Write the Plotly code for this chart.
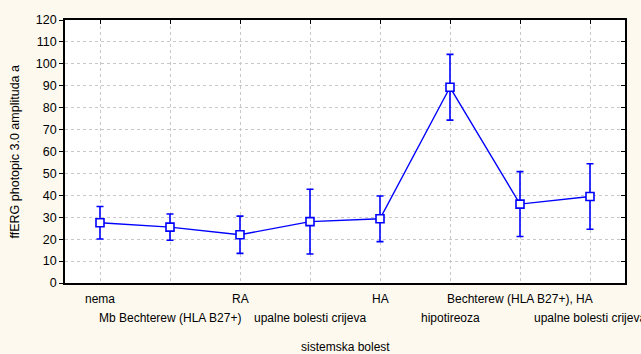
import plotly.graph_objects as go

categories = ["nema", "Mb Bechterew (HLA B27+)", "RA", "upalne bolesti crijeva",
              "HA", "hipotireoza", "Bechterew (HLA B27+), HA", "upalne bolesti crijeva"]
means = [27.5, 25.5, 22.0, 28.0, 29.3, 89.3, 36.0, 39.5]
err_hi = [7.4, 6.0, 8.5, 14.8, 10.4, 15.0, 14.8, 14.9]
err_lo = [7.4, 6.0, 8.5, 14.8, 10.4, 15.0, 14.8, 15.0]
y_ticks = list(range(0, 121, 10))
y_title = "ffERG photopic 3.0 amplituda a"
x_title = "sistemska bolest"

xs = list(range(len(categories)))
blue = "#0000FF"
font = dict(family="Liberation Sans, Arial, sans-serif", size=12, color="#000000")

fig = go.Figure()
fig.add_trace(go.Scatter(
    x=xs, y=means, mode="lines+markers",
    line=dict(color=blue, width=1.4),
    marker=dict(symbol="square", size=8, color="white", line=dict(color=blue, width=1.6)),
    error_y=dict(type="data", symmetric=False, array=err_hi, arrayminus=err_lo,
                 color=blue, thickness=1.6, width=3.5),
    showlegend=False, cliponaxis=False,
))
fig.add_trace(go.Scatter(x=[xs[0]], y=[0], xaxis="x2", yaxis="y2", mode="markers",
                         marker=dict(opacity=0), showlegend=False, hoverinfo="skip"))

grid = dict(showgrid=True, gridcolor="#c8c8c8", griddash="dot", gridwidth=1)
fig.update_layout(
    width=641, height=354,
    margin=dict(l=65, r=16, t=20, b=71, autoexpand=False),
    paper_bgcolor="#FDF9EF", plot_bgcolor="#FFFFFF",
    font=font,
    xaxis=dict(range=[-0.5, len(categories) - 0.5], tickvals=xs,
               ticktext=[""] * len(xs), showline=True, linecolor="black",
               linewidth=1.8, ticks="", zeroline=False, automargin=False, **grid),
    yaxis=dict(range=[0, 120], tickvals=y_ticks, showline=True, linecolor="black",
               linewidth=1.8, ticks="outside", ticklen=4, tickcolor="black",
               zeroline=False, tickfont=dict(size=12.5), automargin=False, **grid),
    xaxis2=dict(overlaying="x", side="top", range=[-0.5, len(categories) - 0.5],
                tickvals=xs, showticklabels=False, ticks="inside", ticklen=4,
                tickcolor="black", showline=True, linecolor="black", linewidth=1.8,
                showgrid=False, zeroline=False, automargin=False),
    yaxis2=dict(overlaying="y", side="right", range=[0, 120], tickvals=y_ticks,
                showticklabels=False, ticks="inside", ticklen=4, tickcolor="black",
                showline=True, linecolor="black", linewidth=1.8, showgrid=False,
                zeroline=False, automargin=False),
)

for i, lab in enumerate(categories):
    fig.add_annotation(x=i, xref="x", y=-0.061 if i % 2 == 0 else -0.132, yref="paper",
                       text=lab, showarrow=False, yanchor="middle", xanchor="center",
                       font=font)
fig.add_annotation(x=0.5, xref="paper", y=-0.243, yref="paper", text=x_title,
                   showarrow=False, yanchor="middle", font=font)
fig.add_annotation(x=-0.0893, xref="paper", y=0.5, yref="paper", text=y_title,
                   textangle=-90, showarrow=False, xanchor="center", yanchor="middle",
                   font=dict(size=12.5))

fig.write_html("out.html", config={"displayModeBar": False},
               post_script="document.body.style.margin='0';")
